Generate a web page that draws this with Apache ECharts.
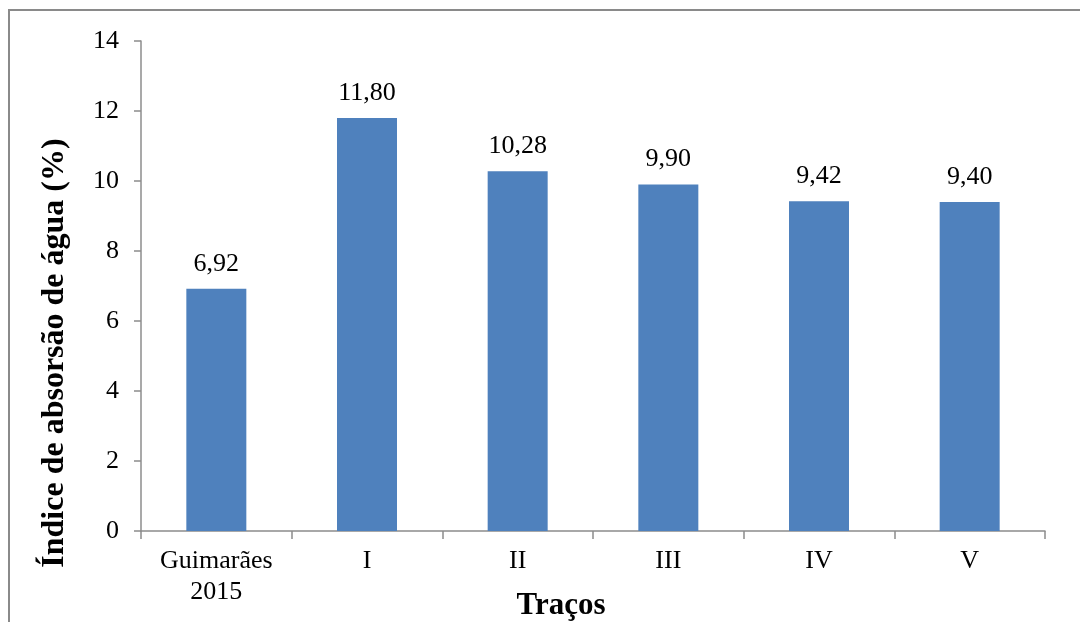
<!DOCTYPE html>
<html>
<head>
<meta charset="utf-8">
<script src="https://cdn.jsdelivr.net/npm/echarts@6/dist/echarts.min.js"></script>
<style>
html,body{margin:0;padding:0;background:#fff;}
#chart{width:1080px;height:622px;}
</style>
</head>
<body>
<div id="chart"></div>
<script>
// Water absorption index per mix
const categories = ['Guimarães\n2015', 'I', 'II', 'III', 'IV', 'V'];
const absorption = [6.92, 11.80, 10.28, 9.90, 9.42, 9.40];
const yTicks = [0, 2, 4, 6, 8, 10, 12, 14];

const serif = '"Liberation Serif", "Times New Roman", serif';
const axisGray = '#8c8c8c';

const chart = echarts.init(document.getElementById('chart'));
chart.setOption({
  animation: false,
  backgroundColor: '#ffffff',
  grid: { left: 141, right: 35, top: 41, bottom: 91, containLabel: false },
  xAxis: {
    type: 'category',
    data: categories,
    axisLine: { lineStyle: { color: axisGray, width: 1.5 } },
    axisTick: { show: true, length: 8, lineStyle: { color: axisGray, width: 1.5 } },
    axisLabel: { color: '#000', fontFamily: serif, fontSize: 26, lineHeight: 31, margin: 15 }
  },
  yAxis: {
    type: 'value',
    min: yTicks[0],
    max: yTicks[yTicks.length - 1],
    interval: 2,
    splitLine: { show: false },
    axisLine: { show: true, lineStyle: { color: axisGray, width: 1.5 } },
    axisTick: { show: true, length: 7, lineStyle: { color: axisGray, width: 1.5 } },
    axisLabel: { color: '#000', fontFamily: serif, fontSize: 26, margin: 22 }
  },
  graphic: [
    {
      type: 'rect',
      shape: { x: 9, y: 10, width: 1200, height: 800 },
      style: { fill: 'none', stroke: '#8a8a8a', lineWidth: 2 },
      silent: true
    },
    {
      type: 'text',
      x: 55, y: 353,
      rotation: Math.PI / 2,
      style: {
        text: 'Índice de absorsão de água (%)',
        font: 'bold 32px ' + serif,
        fill: '#000',
        align: 'center',
        verticalAlign: 'middle'
      }
    },
    {
      type: 'text',
      x: 561, y: 606,
      style: {
        text: 'Traços',
        font: 'bold 31px ' + serif,
        fill: '#000',
        align: 'center',
        verticalAlign: 'middle'
      }
    }
  ],
  series: [{
    type: 'bar',
    data: absorption,
    barWidth: 60,
    itemStyle: { color: '#4F81BD' },
    label: {
      show: true,
      position: 'top',
      distance: 12,
      color: '#000',
      fontFamily: serif,
      fontSize: 26,
      formatter: p => p.value.toFixed(2).replace('.', ',')
    }
  }]
});
</script>
</body>
</html>
